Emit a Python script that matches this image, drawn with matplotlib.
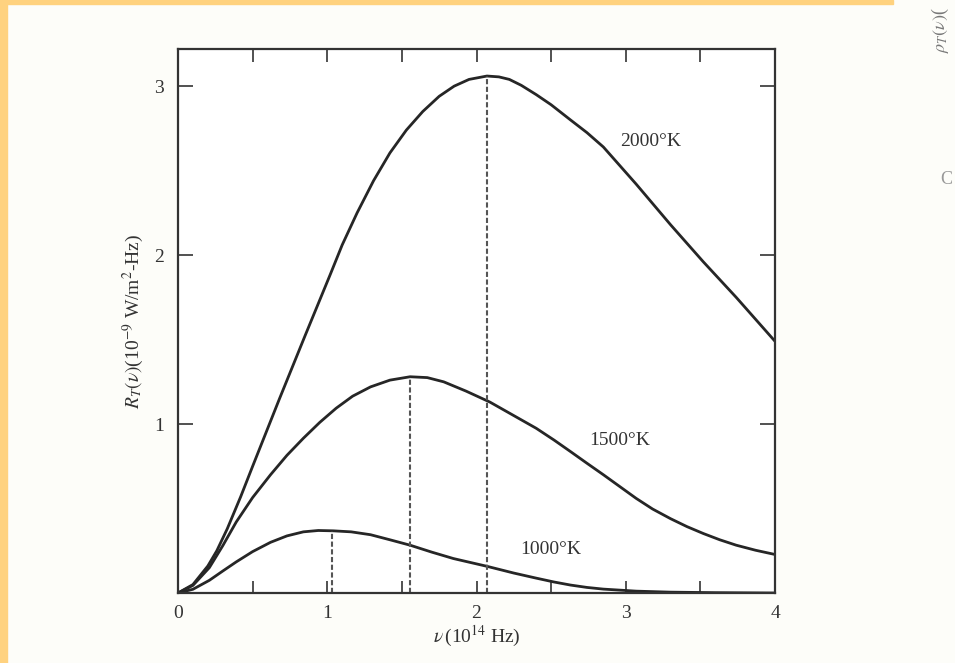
import matplotlib
matplotlib.use("Agg")
import matplotlib.pyplot as plt
from matplotlib.patches import Rectangle

plt.rcParams['font.family'] = ['Liberation Serif', 'DejaVu Serif']
plt.rcParams['mathtext.fontset'] = 'stix'

# (nu in 1e14 Hz, R in 1e-9 W/m^2-Hz)
nu_2000 = [0, 0.1, 0.2, 0.26, 0.33, 0.42, 0.5, 0.68, 0.85, 1.02, 1.1, 1.2, 1.31, 1.42, 1.53, 1.64, 1.75, 1.85, 1.95,
           2.07, 2.15, 2.22, 2.3, 2.4, 2.5, 2.63, 2.74, 2.85, 3.07, 3.3, 3.52, 3.74, 4.0]
R_2000 = [0, 0.05, 0.16, 0.25, 0.38, 0.57, 0.75, 1.15, 1.52, 1.885, 2.06, 2.25, 2.44, 2.605, 2.74, 2.85, 2.94, 3.0, 3.04,
          3.06, 3.055, 3.04, 3.005, 2.95, 2.89, 2.80, 2.725, 2.64, 2.42, 2.18, 1.96, 1.75, 1.49]

nu_1500 = [0, 0.1, 0.21, 0.3, 0.39, 0.5, 0.62, 0.73, 0.84, 0.95, 1.06, 1.17, 1.29, 1.42, 1.555, 1.67, 1.78,
           1.93, 2.09, 2.25, 2.4, 2.52, 2.63, 2.74, 2.85, 2.96, 3.07, 3.18, 3.3, 3.41, 3.52, 3.63, 3.74, 3.87, 4.0]
R_1500 = [0, 0.045, 0.15, 0.28, 0.42, 0.565, 0.70, 0.815, 0.916, 1.01, 1.094, 1.165, 1.22, 1.26, 1.28, 1.275, 1.25,
          1.195, 1.13, 1.05, 0.975, 0.905, 0.837, 0.768, 0.70, 0.63, 0.56, 0.497, 0.44, 0.393, 0.352, 0.315, 0.283, 0.253, 0.228]

nu_1000 = [0, 0.1, 0.21, 0.3, 0.39, 0.5, 0.62, 0.73, 0.84, 0.94, 1.04, 1.16, 1.29, 1.42, 1.555, 1.7, 1.845,
           2.07, 2.25, 2.4, 2.52, 2.63, 2.74, 2.85, 3.07, 3.3, 3.6, 4.0]
R_1000 = [0, 0.022, 0.075, 0.13, 0.184, 0.245, 0.30, 0.338, 0.362, 0.37, 0.368, 0.362, 0.345, 0.315, 0.283, 0.242, 0.204,
          0.158, 0.118, 0.088, 0.065, 0.047, 0.033, 0.023, 0.011, 0.005, 0.002, 0.0]

peak_nu = [1.03, 1.555, 2.07]
peak_R = [0.368, 1.28, 3.06]

labels = ["1000°K", "1500°K", "2000°K"]
label_pos = [(2.5, 0.26), (2.96, 0.9), (3.17, 2.67)]

x_ticks = [0, 1, 2, 3, 4]
y_ticks = [1, 2, 3]

fig = plt.figure(figsize=(9.55, 6.63), dpi=100)
fig.patch.set_facecolor('#fdfdf9')
# yellow frame of the slide
fig.patches.append(Rectangle((0, 0), 7/955, 1, transform=fig.transFigure, color='#ffd27f', zorder=0))
fig.patches.append(Rectangle((0, 1 - 4/663), 893/955, 4/663, transform=fig.transFigure, color='#ffd27f', zorder=0))

ax = fig.add_axes([178/955, 70/663, 597/955, 544/663])
ax.set_facecolor('#ffffff')

lc = '#262626'
for nu, R in [(nu_2000, R_2000), (nu_1500, R_1500), (nu_1000, R_1000)]:
    ax.plot(nu, R, color=lc, lw=2.0, solid_capstyle='round', solid_joinstyle='round')

for x, y in zip(peak_nu, peak_R):
    ax.plot([x, x], [0, y], color='#555555', lw=1.5, linestyle=(0, (2.5, 1.2)))

for lab, (x, y) in zip(labels, label_pos):
    ax.text(x, y, lab, fontsize=14, color='#333333', ha='center', va='center')

ax.set_xlim(0, 4)
ax.set_ylim(0, 3.22)
ax.set_xticks(x_ticks)
ax.set_xticks([0.5, 1.5, 2.5, 3.5], minor=True)
ax.set_yticks(y_ticks)
ax.tick_params(axis='x', which='both', direction='in', top=True, length=9, width=1.2, color='#333333',
               labelsize=14, labelcolor='#333333', pad=9)
ax.tick_params(axis='y', which='both', direction='in', right=True, length=11, width=1.2, color='#333333',
               labelsize=14, labelcolor='#333333', pad=10)
for s in ax.spines.values():
    s.set_linewidth(1.6)
    s.set_color('#333333')

ax.set_xlabel(r"$\nu\,$(10$^{14}$ Hz)", fontsize=14, color='#333333', labelpad=1)
ax.set_ylabel(r"$R_T(\nu)$(10$^{-9}$ W/m$^2$-Hz)", fontsize=14, color='#333333', labelpad=6)

# fragment of the neighbouring figure at the right edge
fig.text(940/955, 1 - 30/663, r"$\rho_T(\nu)$(", rotation=90, fontsize=13, color='#777777',
         ha='center', va='center')
fig.text(952/955, 1 - 180/663, "C", fontsize=13, color='#999999', ha='right', va='center')

fig.savefig("out.png", dpi=100, facecolor=fig.get_facecolor())
